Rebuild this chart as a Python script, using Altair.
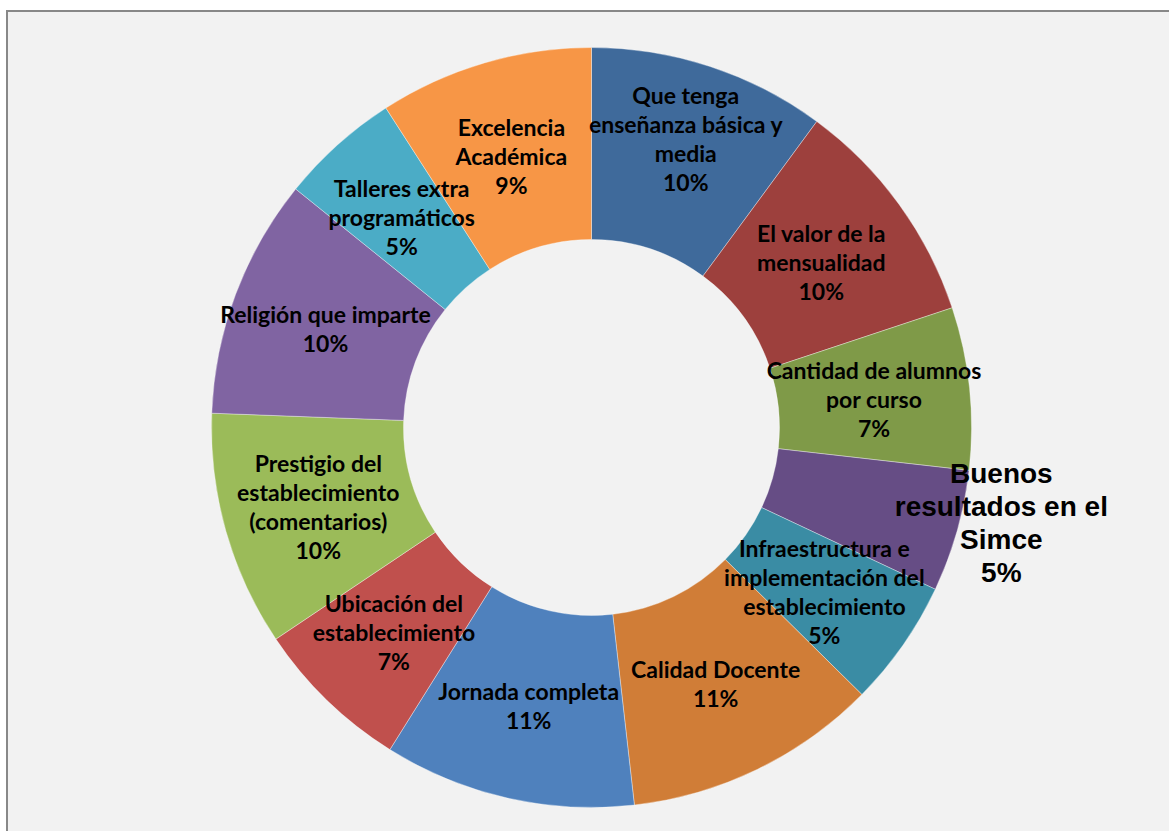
import altair as alt
import pandas as pd

# --- data (clockwise from 12 o'clock) ---
categories = [
    "Que tenga enseñanza básica y media",
    "El valor de la mensualidad",
    "Cantidad de alumnos por curso",
    "Buenos resultados en el Simce",
    "Infraestructura e implementación del establecimiento",
    "Calidad Docente",
    "Jornada completa",
    "Ubicación del establecimiento",
    "Prestigio del establecimiento (comentarios)",
    "Religión que imparte",
    "Talleres extra programáticos",
    "Excelencia Académica",
]
label_lines = [
    "Que tenga\nenseñanza básica y\nmedia",
    "El valor de la\nmensualidad",
    "Cantidad de alumnos\npor curso",
    "Buenos\nresultados en el\nSimce",
    "Infraestructura e\nimplementación del\nestablecimiento",
    "Calidad Docente",
    "Jornada completa",
    "Ubicación del\nestablecimiento",
    "Prestigio del\nestablecimiento\n(comentarios)",
    "Religión que imparte",
    "Talleres extra\nprogramáticos",
    "Excelencia\nAcadémica",
]
values = [10.1, 9.8, 6.9, 5.2, 5.4, 10.8, 10.7, 6.7, 10.0, 10.2, 5.1, 9.1]
pct_labels = ["10%", "10%", "7%", "5%", "5%", "11%", "11%", "7%", "10%", "10%", "5%", "9%"]
colors = [
    "#3F6A9B", "#9D403D", "#7F9A48", "#664D85", "#3A8CA4", "#D07D37",
    "#4F81BD", "#C0504D", "#9BBB59", "#8064A2", "#4BACC6", "#F79646",
]
outside_label = "Buenos resultados en el Simce"

# label placement styles (not data)
DEFAULT_LABEL_R = 284
LABEL_R_OVERRIDE = {"Que tenga enseñanza básica y media": 302}

W, H = 1183, 855  # view size; the donut sits at its centre

df = pd.DataFrame({
    "cat": categories,
    "value": values,
    "idx": list(range(len(categories))),
    "label": [l + "\n" + p for l, p in zip(label_lines, pct_labels)],
})
df["nlines"] = [t.count("\n") + 1 for t in df["label"]]
df["lr"] = [LABEL_R_OVERRIDE.get(c, DEFAULT_LABEL_R) for c in df["cat"]]

# chart-area panel (grey fill with grey frame, as in the spreadsheet export)
panel = alt.Chart(pd.DataFrame({"p": [0]})).mark_rect(
    fill="#F2F2F2", stroke="#888888", strokeWidth=2
).encode(x=alt.value(7), x2=alt.value(W + 20), y=alt.value(11), y2=alt.value(H + 20))

text_specs = []
INNER_LH = 29
groups = sorted(set(zip(df["nlines"], df["lr"])))
for gi, (n, r) in enumerate(groups):
    field = f"t{gi}"
    df[field] = [
        t if (c != outside_label and k == n and rr == r) else ""
        for c, t, k, rr in zip(df["cat"], df["label"], df["nlines"], df["lr"])
    ]
    extra = 3 if r == DEFAULT_LABEL_R else 0
    text_specs.append((field, dict(
        radius=r, dy=-(n - 1) * INNER_LH / 2 + extra, font="Lato", fontWeight="bold",
        fontSize=23, lineHeight=INNER_LH, lineBreak="\n", color="black",
        align="center", baseline="middle",
    )))

df["outer_text"] = [t if c == outside_label else "" for c, t in zip(df["cat"], df["label"])]
OUTER_LH = 33
text_specs.append(("outer_text", dict(
    radius=426, dy=-19 - 3 * OUTER_LH / 2, font="Liberation Sans", fontWeight="bold",
    fontSize=28, lineHeight=OUTER_LH, lineBreak="\n", color="black",
    align="center", baseline="middle",
)))

base = alt.Chart(df).encode(
    theta=alt.Theta("value:Q", stack=True),
    order=alt.Order("idx:Q", sort="ascending"),
)

arcs = base.mark_arc(
    innerRadius=188, outerRadius=380, stroke="#FFFFFF", strokeWidth=0.6, strokeOpacity=0.6
).encode(
    color=alt.Color("cat:N", scale=alt.Scale(domain=categories, range=colors), legend=None),
)

layers = [panel, arcs]
for field, props in text_specs:
    layers.append(base.mark_text(**props).encode(text=f"{field}:N", detail="cat:N"))

chart = alt.layer(*layers).properties(
    width=W, height=H,
    autosize=alt.AutoSizeParams(type="none"),
    padding={"left": 0, "top": 0, "right": 1169 - W, "bottom": 831 - H},
    background="white",
).configure_view(stroke=None)

chart.save("out.html", embed_options={"renderer": "svg", "actions": False})
